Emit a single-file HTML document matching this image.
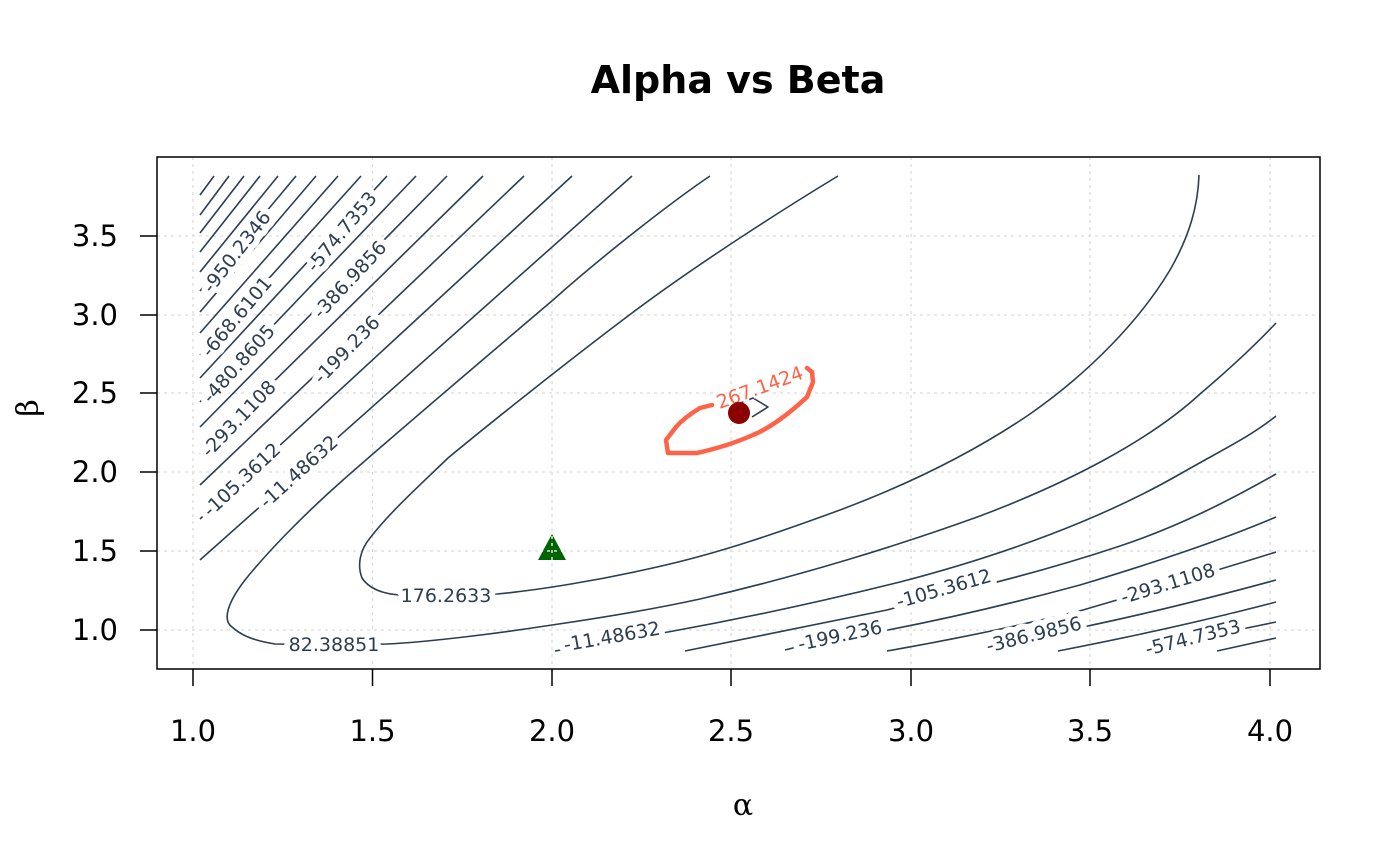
<!DOCTYPE html>
<html><head><meta charset="utf-8"><style>
html,body{margin:0;padding:0;background:#fff;}
svg{display:block;font-family:"DejaVu Sans","Liberation Sans",sans-serif;}
.g{stroke:#dcdcdc;stroke-width:1.3;stroke-dasharray:3,4;}
.c{fill:none;stroke:#2c3e50;stroke-width:1.6;stroke-linejoin:round;}
.l{font-size:19px;fill:#2c3e50;stroke:#fff;stroke-width:12px;paint-order:stroke;stroke-linejoin:round;text-anchor:middle;dominant-baseline:central;}
.t{font-size:29px;fill:#000;}
</style></head><body>
<svg width="1400" height="866" viewBox="0 0 1400 866" xmlns="http://www.w3.org/2000/svg">
<rect width="1400" height="866" fill="#fff"/>
<text x="738" y="93" text-anchor="middle" font-size="38" font-weight="bold">Alpha vs Beta</text>
<g class="g">
<line x1="193" y1="157" x2="193" y2="669"/><line x1="372.5" y1="157" x2="372.5" y2="669"/>
<line x1="552" y1="157" x2="552" y2="669"/><line x1="731" y1="157" x2="731" y2="669"/>
<line x1="911" y1="157" x2="911" y2="669"/><line x1="1090" y1="157" x2="1090" y2="669"/>
<line x1="1270" y1="157" x2="1270" y2="669"/>
<line x1="157" y1="630" x2="1320" y2="630"/><line x1="157" y1="551" x2="1320" y2="551"/>
<line x1="157" y1="472" x2="1320" y2="472"/><line x1="157" y1="393" x2="1320" y2="393"/>
<line x1="157" y1="315" x2="1320" y2="315"/><line x1="157" y1="236" x2="1320" y2="236"/>
</g>
<g class="c">
<line x1="200" y1="195" x2="214" y2="176"/>
<line x1="200" y1="215" x2="229" y2="176"/>
<line x1="200" y1="233" x2="244" y2="176"/>
<line x1="200" y1="252" x2="260" y2="176"/>
<line x1="200" y1="272" x2="278" y2="176"/>
<line x1="200" y1="291" x2="296" y2="176"/>
<line x1="200" y1="312" x2="316" y2="176"/>
<line x1="200" y1="333" x2="338" y2="176"/>
<line x1="200" y1="355" x2="361" y2="176"/>
<line x1="200" y1="378" x2="387" y2="176"/>
<line x1="200" y1="402" x2="416" y2="176"/>
<line x1="200" y1="427" x2="447" y2="176"/>
<line x1="200" y1="454" x2="483" y2="176"/>
<line x1="200" y1="485" x2="524" y2="176"/>
<line x1="200" y1="519" x2="572" y2="176"/>
<line x1="200" y1="560" x2="632" y2="176"/>
<path d="M710,176 C670,203 600,258 553,300 C500,345 400,430 343,480 C300,518 265,555 245,580 C228,602 222,620 232,627 C240,634 250,640 275,644 L334,645 L387,644 C430,642 500,633 552,625 C600,618 650,610 700,599 C800,576 900,545 980,516 C1070,482 1150,440 1200,394 C1240,360 1260,340 1276,323"/>
<path d="M838,176 C790,205 700,262 632,313 C580,352 500,415 448,458 C420,485 390,512 370,538 C360,550 357,565 362,578 C370,590 385,594 400,595 L497,594 C540,590 600,580 657,567 C720,553 780,532 840,510 C920,480 980,448 1030,414 C1090,372 1140,320 1170,270 C1190,235 1198,205 1199,175"/>
<path d="M555,651 L668,632 C740,619 820,602 900,582 C1000,556 1100,520 1180,474 C1220,451 1250,437 1276,416"/>
<path d="M685,651 C760,636 830,622 887,610 L943,595 C1000,582 1060,566 1120,546 C1180,526 1230,500 1276,474"/>
<path d="M785,650 L840,636 L888,630 C950,618 1010,604 1080,585 C1150,564 1220,541 1276,517"/>
<path d="M887,651 C950,640 1010,628 1083,610 L1168,585 C1210,572 1245,562 1276,552"/>
<path d="M985,651 L1035,636 L1083,627 C1150,613 1210,598 1276,580"/>
<path d="M1058,651 C1130,637 1200,622 1276,602"/>
<polyline points="1147,650 1193,638 1247,628 1276,622"/>
<polyline points="1217,651 1276,638"/>
<polyline points="738,404 753,398 768,407 752,417"/>
</g>
<g class="l">
<text transform="translate(237,252) rotate(-52)">-950.2346</text>
<text transform="translate(342,232) rotate(-50)">-574.7353</text>
<text transform="translate(237,317) rotate(-50)">-668.6101</text>
<text transform="translate(350,280) rotate(-47)">-386.9856</text>
<text transform="translate(239,364) rotate(-48)">-480.8605</text>
<text transform="translate(347,350) rotate(-46)">-199.236</text>
<text transform="translate(239,419) rotate(-46)">-293.1108</text>
<text transform="translate(242,480) rotate(-43)">-105.3612</text>
<text transform="translate(299,472) rotate(-42)">-11.48632</text>
<text transform="translate(334,645)">82.38851</text>
<text transform="translate(446,596)">176.2633</text>
<text transform="translate(612,637) rotate(-10)">-11.48632</text>
<text transform="translate(944,589) rotate(-16)">-105.3612</text>
<text transform="translate(840,636) rotate(-12)">-199.236</text>
<text transform="translate(1168,584) rotate(-17)">-293.1108</text>
<text transform="translate(1034,635) rotate(-14)">-386.9856</text>
<text transform="translate(1193,638) rotate(-14)">-574.7353</text>
</g>
<path d="M712,405 L700,408 C690,414 682,420 676,427 L666,440 L668,453 L697,453 C715,449 735,443 753,435 C770,428 790,413 807,397 L813,382 L812,372 L807,368" fill="none" stroke="#ff6347" stroke-width="4.5" stroke-linejoin="round" stroke-linecap="round"/>
<text transform="translate(760,388) rotate(-20)" font-size="19" fill="#ff6347" stroke="#fff" stroke-width="4" paint-order="stroke" text-anchor="middle" dominant-baseline="central">267.1424</text>
<circle cx="739" cy="413" r="11" fill="#8b0000"/>
<polygon points="552,534 538,560 566,560" fill="#006400"/>
<g stroke="#fff" stroke-width="1.3" stroke-dasharray="3,4"><line x1="552" y1="536" x2="552" y2="560"/><line x1="540" y1="551" x2="564" y2="551"/></g>
<rect x="157" y="157" width="1163" height="512" fill="none" stroke="#000" stroke-width="1.5"/>
<g stroke="#000" stroke-width="1.5">
<line x1="193" y1="669" x2="193" y2="686"/><line x1="372.5" y1="669" x2="372.5" y2="686"/>
<line x1="552" y1="669" x2="552" y2="686"/><line x1="731" y1="669" x2="731" y2="686"/>
<line x1="911" y1="669" x2="911" y2="686"/><line x1="1090" y1="669" x2="1090" y2="686"/>
<line x1="1270" y1="669" x2="1270" y2="686"/>
<line x1="140" y1="630" x2="157" y2="630"/><line x1="140" y1="551" x2="157" y2="551"/>
<line x1="140" y1="472" x2="157" y2="472"/><line x1="140" y1="393" x2="157" y2="393"/>
<line x1="140" y1="315" x2="157" y2="315"/><line x1="140" y1="236" x2="157" y2="236"/>
</g>
<g class="t" text-anchor="middle">
<text x="193" y="741">1.0</text><text x="372.5" y="741">1.5</text><text x="552" y="741">2.0</text>
<text x="731" y="741">2.5</text><text x="911" y="741">3.0</text><text x="1090" y="741">3.5</text>
<text x="1270" y="741">4.0</text>
</g>
<g class="t" text-anchor="end">
<text x="118" y="640">1.0</text><text x="118" y="561">1.5</text><text x="118" y="482">2.0</text>
<text x="118" y="403">2.5</text><text x="118" y="325">3.0</text><text x="118" y="246">3.5</text>
</g>
<text x="743" y="815" text-anchor="middle" font-size="30" font-family="'DejaVu Serif','Liberation Serif',serif">α</text>
<text transform="translate(38,408) rotate(-90)" text-anchor="middle" font-size="30" font-family="'DejaVu Serif','Liberation Serif',serif">β</text>
</svg>
</body></html>
